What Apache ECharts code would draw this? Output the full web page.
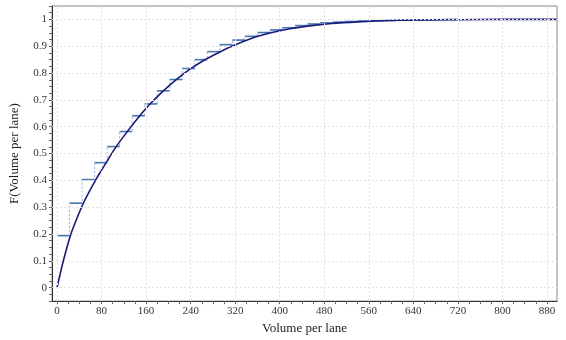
<!DOCTYPE html>
<html>
<head>
<meta charset="utf-8">
<script src="https://cdn.jsdelivr.net/npm/echarts@6/dist/echarts.min.js"></script>
<style>
  html, body { margin: 0; padding: 0; background: #fff; }
  #chart { width: 566px; height: 340px; }
</style>
</head>
<body>
<div id="chart"></div>
<script>
// empirical CDF steps (bin edges + value of each step)
const stepEdges = [0, 22.5, 45, 67.5, 90, 112.5, 135, 157.5, 180, 202.5, 225, 247.5, 270, 292.5,
  315, 337.5, 360, 382.5, 405, 427.5, 450, 472.5, 495, 517.5, 540, 562.5, 585, 607.5, 630,
  652.5, 675, 697.5, 720];
const stepValues = [0.194, 0.315, 0.403, 0.466, 0.526, 0.582, 0.641, 0.685, 0.734, 0.776, 0.817,
  0.850, 0.880, 0.906, 0.923, 0.937, 0.951, 0.961, 0.969, 0.977, 0.983, 0.987, 0.990, 0.992,
  0.994, 0.995, 0.996, 0.997, 0.998, 0.998, 0.999, 1.0];

// fitted CDF curve
const curveX = [0, 12, 24, 36, 48, 60, 70, 80, 90, 105, 127, 145, 165, 189, 213, 237, 264, 288,
  314, 350, 386, 421, 457, 493, 540, 600, 660, 720, 800, 898];
const curveY = [0, 0.105, 0.194, 0.26, 0.318, 0.366, 0.404, 0.438, 0.472, 0.522, 0.584, 0.632,
  0.680, 0.730, 0.774, 0.812, 0.848, 0.874, 0.900, 0.930, 0.951, 0.966, 0.977, 0.985, 0.991,
  0.996, 0.998, 0.999, 1.0, 1.0];

const xTickLabels = [0, 80, 160, 240, 320, 400, 480, 560, 640, 720, 800, 880];
const yTickLabels = [0, 0.1, 0.2, 0.3, 0.4, 0.5, 0.6, 0.7, 0.8, 0.9, 1];

// minor ticks (3 between each label)
const xTicks = [];
for (let v = 0; v <= 890; v += 20) xTicks.push(v);
const yTicks = [];
for (let i = -2; i <= 42; i++) yTicks.push(+(i * 0.025).toFixed(3));

const riserData = stepEdges.slice(0, stepValues.length).map((x, i) => [x, stepValues[i]]);
riserData.push([stepEdges[stepEdges.length - 1], stepValues[stepValues.length - 1]]);
const segData = stepValues.map((v, i) => [stepEdges[i], stepEdges[i + 1], v]);
const curveData = curveX.map((x, i) => [x, curveY[i]]);

const font = 'Liberation Serif';
const gridLine = { color: '#e2e2e2', type: [2, 2], width: 1 };

const myChart = echarts.init(document.getElementById('chart'));
myChart.setOption({
  animation: false,
  grid: { left: 49, right: 9, top: 6, bottom: 34, show: true, borderColor: '#8a8a8a', borderWidth: 1 },
  xAxis: {
    type: 'value', min: -9, max: 898,
    name: 'Volume per lane', nameLocation: 'middle', nameGap: 17,
    nameTextStyle: { fontFamily: font, fontSize: 13, color: '#222' },
    axisLine: { show: true, onZero: false, lineStyle: { color: '#333' } },
    axisTick: { show: true, length: 3, customValues: xTicks, lineStyle: { color: '#666' } },
    axisLabel: { customValues: xTickLabels, fontFamily: font, fontSize: 11, color: '#333', margin: 5 },
    splitLine: { show: false }
  },
  yAxis: {
    type: 'value', min: -0.05, max: 1.05,
    name: 'F(Volume per lane)', nameLocation: 'middle', nameGap: 31,
    nameTextStyle: { fontFamily: font, fontSize: 13, color: '#222' },
    axisLine: { show: true, onZero: false, lineStyle: { color: '#333' } },
    axisTick: { show: true, length: 3, customValues: yTicks, lineStyle: { color: '#666' } },
    axisLabel: { customValues: yTickLabels, fontFamily: font, fontSize: 11, color: '#333', margin: 5 },
    splitLine: { show: false }
  },
  series: [
    {
      name: 'risers', type: 'line', step: 'end', data: riserData, symbol: 'none', z: 1,
      lineStyle: { color: '#8fb0d6', width: 1, type: [2, 2] },
      markLine: {
        silent: true, symbol: 'none', label: { show: false }, lineStyle: gridLine,
        data: xTickLabels.map(v => ({ xAxis: v })).concat(yTickLabels.map(v => ({ yAxis: v })))
      }
    },
    {
      name: 'steps', type: 'custom', data: segData, z: 2,
      encode: { x: [0, 1], y: 2 },
      renderItem: function (params, api) {
        const a = api.coord([api.value(0), api.value(2)]);
        const b = api.coord([api.value(1), api.value(2)]);
        return { type: 'line', shape: { x1: a[0], y1: a[1], x2: b[0], y2: b[1] },
          style: { stroke: '#4a78b0', lineWidth: 1.6 } };
      }
    },
    {
      name: 'cdf', type: 'line', data: curveData, symbol: 'none', smooth: 0.3, z: 3,
      lineStyle: { color: '#1a1a7a', width: 1.6 }
    }
  ]
});
</script>
</body>
</html>
